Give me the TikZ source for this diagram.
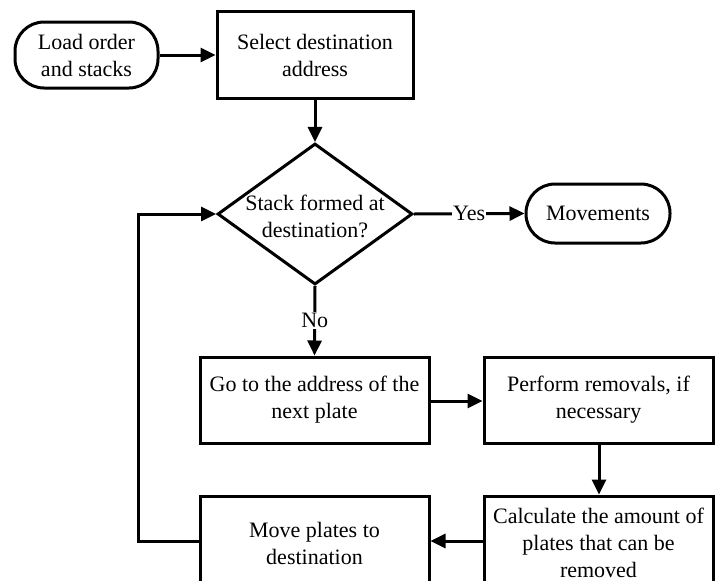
\documentclass[tikz,border=0pt]{standalone}
\usepackage{fontspec}
\setmainfont{Liberation Serif}
\usetikzlibrary{shapes.geometric,arrows.meta}
\begin{document}
\begin{tikzpicture}[x=1pt,y=-1pt,
  every node/.style={font=\fontsize{22}{27}\selectfont, align=center, inner sep=0pt},
  procbox/.style={draw, line width=3pt, minimum width=229pt, minimum height=86pt},
  termbox/.style={draw, line width=3pt, rounded corners=29pt},
  decbox/.style={draw, diamond, line width=3pt, minimum width=195pt, minimum height=141pt},
  flow/.style={line width=3pt, -{Triangle[length=15pt,width=14pt]}},
  lbl/.style={fill=white, inner sep=1pt}]
\useasboundingbox (0,0) rectangle (723,581);
\clip (0,0) rectangle (723,581);
\node[termbox, minimum width=143pt, minimum height=66pt] (load) at (86.5,55) {Load order\\and stacks};
\node[procbox, minimum width=196pt, minimum height=87pt] (sel) at (315,55) {Select destination\\address};
\node[decbox] (dec) at (315,214) {};
\node at (315,216) (dectext) {Stack formed at\\destination?};
\node[termbox, minimum width=144pt, minimum height=59pt] (mov) at (598,213.5) {Movements};
\node[procbox] (go) at (314.5,400) {Go to the address of the\\next plate};
\node[procbox] (perf) at (598.5,400) {Perform removals, if\\necessary};
\node[procbox, minimum height=94pt] (calc) at (598.5,543) {Calculate the amount of\\plates that can be\\removed};
\node[procbox, minimum height=94pt] (move) at (314.5,543) {Move plates to\\destination};
\coordinate (corner1) at (138,541);
\coordinate (corner2) at (138,214);
\draw[flow] (load.east |- 0,55) -- (sel.west |- 0,55);
\draw[flow] (sel) -- (dec);
\draw[flow] (dec.east) -- node[lbl] {Yes} (mov.west);
\draw[flow] (dec.south) -- node[lbl] {No} (go.north);
\draw[flow] (go.east |- 0,401) -- (perf.west |- 0,401);
\draw[flow] (perf.south -| 599,0) -- (calc.north -| 599,0);
\draw[flow] (calc.west |- 0,541) -- (move.east |- 0,541);
\draw[flow] (move.west |- corner1) -- (corner1) -- (corner2) -- (dec.west);
\end{tikzpicture}
\end{document}
